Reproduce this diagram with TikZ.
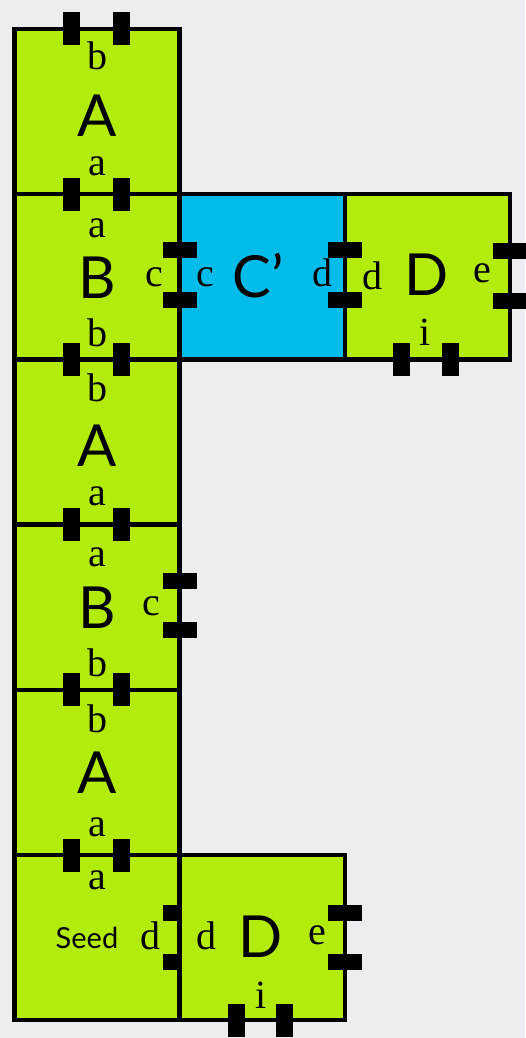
\documentclass[tikz,border=0pt]{standalone}
\usepackage{fontspec}
\setmainfont{Liberation Serif}
\newfontfamily\bigsans{Lato}
\definecolor{tilegreen}{RGB}{178,235,12}
\definecolor{tileblue}{RGB}{0,188,234}
\definecolor{bgcol}{RGB}{236,237,241}
\begin{document}
\begin{tikzpicture}[x=1pt,y=-1pt,
  tile/.style={draw=black, line width=4.5pt, minimum width=165.2pt, minimum height=165.2pt, inner sep=0pt, outer sep=0pt},
  gtile/.style={tile, fill=tilegreen},
  btile/.style={tile, fill=tileblue},
  vtab/.style={fill=black, minimum width=17pt, minimum height=33pt, inner sep=0pt, outer sep=0pt},
  htab/.style={fill=black, minimum width=34pt, minimum height=16pt, inner sep=0pt, outer sep=0pt},
  halftab/.style={fill=black, minimum width=17pt, minimum height=16pt, inner sep=0pt, outer sep=0pt},
  big/.style={font=\bigsans\fontsize{58}{60}\selectfont, anchor=base, inner sep=0pt},
  seedlab/.style={font=\bigsans\fontsize{29}{30}\selectfont, anchor=base, inner sep=0pt},
  small/.style={font=\fontsize{40}{42}\selectfont, anchor=base, inner sep=0pt}]
\useasboundingbox (0,0) rectangle (525,1038);
\fill[bgcol] (0,0) rectangle (525,1038);
% tiles
\node[gtile] (A1) at (97.1,111.6) {};
\node[gtile] (B1) at (97.1,276.8) {};
\node[btile] (C1) at (262.3,276.8) {};
\node[gtile] (D1) at (427.5,276.8) {};
\node[gtile] (A2) at (97.1,442.0) {};
\node[gtile] (B2) at (97.1,607.2) {};
\node[gtile] (A3) at (97.1,772.4) {};
\node[gtile] (S) at (97.1,937.6) {};
\node[gtile] (D2) at (262.3,937.6) {};
% tabs on horizontal edges of left column
\foreach \yy [count=\k] in {29,194.2,359.4,524.6,689.8,855}{
  \node[vtab] (tl\k) at (71.6,\yy) {};
  \node[vtab] (tr\k) at (121.1,\yy) {};
}
% side tabs
\node[htab] (bc1) at (179.7,250.3) {};
\node[htab] (bc2) at (179.7,300.3) {};
\node[htab] (cd1) at (344.9,250.3) {};
\node[htab] (cd2) at (344.9,300.3) {};
\node[htab] (de1) at (510.1,251) {};
\node[htab] (de2) at (510.1,300.5) {};
\node[vtab] (di1) at (401.5,359.4) {};
\node[vtab] (di2) at (450,359.4) {};
\node[htab] (b2c1) at (179.7,581) {};
\node[htab] (b2c2) at (179.7,630) {};
\node[halftab] (sd1) at (171.3,913) {};
\node[halftab] (sd2) at (171.3,962) {};
\node[htab] (d2e1) at (344.9,913) {};
\node[htab] (d2e2) at (344.9,962) {};
\node[vtab] (d2i1) at (236.3,1020.2) {};
\node[vtab] (d2i2) at (284.3,1020.2) {};
% labels: top A
\node[small] (lA1b) at (97.5,70) {b};
\node[big] (lA1) at (97.5,136) {A};
\node[small] (lA1a) at (97.5,175) {a};
% B row 2
\node[small] (lB1a) at (97.5,237) {a};
\node[big] (lB1) at (97.5,298) {B};
\node[small] (lB1b) at (97.5,346) {b};
\node[small] (lB1c) at (154,286) {c};
% C'
\node[small] (lC1c) at (205,286) {c};
\node[big] (lC1) at (258.5,297) {C’};
\node[small] (lC1d) at (322,286) {d};
% D row 2
\node[small] (lD1d) at (372,289) {d};
\node[big] (lD1) at (427,295) {D};
\node[small] (lD1e) at (482,282) {e};
\node[small] (lD1i) at (425,345) {i};
% A row 3
\node[small] (lA2b) at (97.5,401) {b};
\node[big] (lA2) at (97.5,466) {A};
\node[small] (lA2a) at (97.5,505) {a};
% B row 4
\node[small] (lB2a) at (97.5,566) {a};
\node[big] (lB2) at (97.5,628) {B};
\node[small] (lB2b) at (97.5,676) {b};
\node[small] (lB2c) at (151,615) {c};
% A row 5
\node[small] (lA3b) at (97.5,732) {b};
\node[big] (lA3) at (97.5,793) {A};
\node[small] (lA3a) at (97.5,836) {a};
% Seed
\node[small] (lSa) at (97.5,889) {a};
\node[seedlab] (lS) at (87,948) {Seed};
\node[small] (lSd) at (150,949) {d};
% bottom D
\node[small] (lD2d) at (206,949) {d};
\node[big] (lD2) at (260.5,957) {D};
\node[small] (lD2e) at (317,944) {e};
\node[small] (lD2i) at (261,1008) {i};
\end{tikzpicture}
\end{document}
